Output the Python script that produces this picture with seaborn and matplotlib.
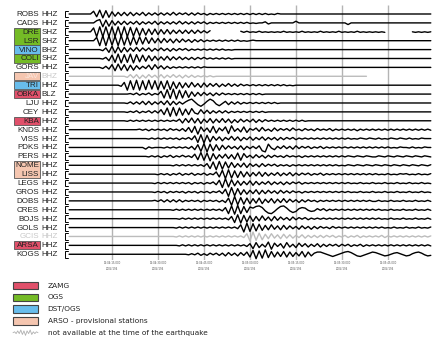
import matplotlib
matplotlib.use("Agg")
import matplotlib.pyplot as plt
import matplotlib.transforms as mtransforms
from matplotlib.patches import Rectangle
import numpy as np
import pandas as pd
import seaborn as sns

# Stations top to bottom, their channel and who runs them
stations = ["ROBS", "CADS", "DRE", "LSR", "VINO", "COLI", "GORS", "JAV", "TRI", "OBKA",
            "LJU", "CEY", "KBA", "KNDS", "VISS", "PDKS", "PERS", "NOME", "LISS", "LEGS",
            "GROS", "DOBS", "CRES", "BOJS", "GOLS", "GCIS", "ARSA", "KOGS"]
channels = ["HHZ", "HHZ", "SHZ", "SHZ", "BHZ", "SHZ", "HHZ", "BHZ", "HHZ", "BLZ",
            "HHZ", "HHZ", "HHZ", "HHZ", "HHZ", "HHZ", "HHZ", "HHZ", "HHZ", "HHZ",
            "HHZ", "HHZ", "HHZ", "HHZ", "HHZ", "HHZ", "HHZ", "HHZ"]
networks = ["", "", "OGS", "OGS", "DST", "OGS", "", "ARSO", "DST", "ZAMG",
            "", "", "ZAMG", "", "", "", "", "ARSO", "ARSO", "",
            "", "", "", "", "", "", "ZAMG", ""]
unavailable = ["JAV", "GCIS"]

# Traces, one sample per second from 13:04:01.
# 0-9 = up, a-i = down (1-9), _ = no data
traces = [
    "000000005e 7g6f4d3c3c 3c2b3c2b2b 2b2b3b2a2b 2b2a1b1a1a 1a1a1a1a1a 1a1a1a0a10 0000000000 0000000000 0000000000 0000000000 000000000",
    "0000000004 6g5f4d3c3c 2b3c2b2b3c 2b2b2b3b2b 2b2a2b1a1a 1a1a1a1a1a 0a002b0000 0000300000 0000000000 0c00000000 0000000000 000000000",
    "000000007i 9i9i9i9i9i 8h7g6f5e5e 4d4d3c3c3c 3c3b2b2___ ______1a1a 0a1a0a0a0a 1a0a0a1a0a 0a1a0a0a1a 0a0a1a0a0a 0a0a______ __0a0a0a0",
    "0000000006 i9i9h8i9h8 h7g7f6e5d4 d4c3d3c3b2 c2b2b1a1a1 a1a1a1a0a0 1000000000 0000000000 0000000000 0000000000 0000000000 000000000",
    "0000000000 0b3e6f5e4d 3c4c3b3c2b 3b2c2b2a2b 1a1a1a1a1a 1a0a000000 0000000000 0000000000 0000000000 0000000000 0000000000 000000000",
    "0000000000 0a2d6g8h7g 8h7f6e5d4c 3c4c3b3b2b 2b2a2a1a1a 1a1a000000 0000000000 0000000000 0000000000 0000000000 0000000000 000000000",
    "0000000000 0b2c5f6e5f 4e3c2b4d5b 3c2b1a1a1a 1a1a100000 0000000000 0000000000 0000000000 0000000000 0000000000 0000000000 000000000",
    "0000000000 000000000b 3c3d2c3b2c 3c2b3b2c2b 2b1a1a1a00 0000000000 0000000000 0000000000 0000000000 00000000__ __________ _________",
    "0000000000 0000000b5i 8h9i8h9g8h 7g8h6f5e4d 5c3d4c3b3c 2b3b2b2a1a 1a1a1a1a1a 1a0a000000 0000000000 0000000000 0000000000 000000000",
    "0000000000 0000000000 1a2b1a2b1a 5g8h9i7g6f 4d3c3b2c2b 2a1a1a1a1a 1a1a000000 0000000000 0000000000 0000000000 0000000000 000000000",
    "0000000000 000000000a 2b2b3c3c2b 3c4d3c2b25 72cfb374be a3c2b2b1a1 a1a1a1a1a0 0000000000 0000000000 0000000000 0000000000 000000000",
    "0000000000 000000000a 1a2b1a2b2b 4e7h8g7f5e 6bd4c3c2b2 b2b1a1a1a1 a1a1a00000 0000000000 0000000000 0000000000 0000000000 000000000",
    "0000000000 000000000a 1a1a1a1a1a 1a1a1a3d4c 5d4e3c4d3c 4c3d2c3b2b 3c2b2a1a1a 1a1a1a1a00 0000000000 0000000000 0000000000 000000000",
    "0000000000 0000000000 0001a1b1a1 a1b2a1b2c4 e6h5c3e6f3 b5g7c2d5e2 a3c4b1c3b2 a2b3a1b2a1 b2a1a2b1a1 a1a1b1a1a1 a1a1a1a1a1 a1a1a1a1a",
    "0000000000 0000000000 000000a1a1 a1a1a1b1a2 b5g7h6f4c3 d2b4c3d2b3 c2b3c2b2c2 b2a2b1a1a1 a1a1a1a1a1 a1a0a10a10 a1a0a10a10 a1a0a1000",
    "0000000000 0000000000 00000c1a00 0a1a1a1a1b 2d5g7h6f5e 4c3b2c3d2b 2b3fh6ad2b 3b2c3b2a2b 1a2b1a1a1a 1a1a1a1a1a 1a1a1a0a10 0a1a0a100",
    "0000000000 0000000000 000000a1a1 b1a2b1a2a1 b4f7g6h5e3 c4d3e6g5b2 c3b2c2b2a1 b2a1a1b1a1 a1a1a1a1a1 a10a10a10a a10a10a10a 10a10a10a",
    "0000000000 0000000000 0000000000 0000a1a1a1 a1a1b3f6h7 g6e5d3c4d3 b2c3b2a2b1 a1b1a1a1a1 a1a1a1a1a0 a10a10a10a 10a10a10a1 0a10a10a1",
    "0000000000 0000000000 000000000a 1a1b1a2b1a 2b1a2b1a4e 7h8g6f5e4d 3c4d3c2b3c 2b3c2b2a2b 1a2b1a1a1a 1a1a1a1a1a 1a0a1a0a10 1a0a1a0a1",
    "0000000000 0000000000 00000000a1 a1a1a1a1a1 b1a1b1a2c5 h8g6e4d3c4 d3c2b3c2b2 c2b2a2b1a1 a1a1a1a1a1 a1a0a1a0a1 a0a1a0a1a0 a1a0a1a0a",
    "0000000000 0000000000 00000000a1 a1b1a1a1b1 a1b1a1b1a2 c5h8g6e4d3 c4d3c3b2c3 b2b2a1b1a1 a1a1a1a1a1 a1a0a1a0a1 a0a1a0a1a0 a1a0a1a0a",
    "0000000000 0000000000 000000001a 2b2b2b2b1a 1a1b1a1a1b 1c5h8g6f5e 4d5e3c4d3c 4c3b2c2b2a 1b1a1a1a1a 1a1a1a1a1a a1a0a1a0a1 a0a1a0a1a",
    "0000000000 0000000000 0000000000 0000a1a1a1 a1a1a1a1a1 b4g7h8g6e5 3674bfgc26 73bec243ac b2a2b1a1a1 a1a1a1a1a1 a1a0a1a0a1 a0a1a0a1a",
    "0000000000 0000000000 0000000000 000000a1a1 a1a1a1a1a1 a1b4g7h6f5 e4d5c3d4c3 b2c3b2a2b1 a1a1a1a1a1 a1a1a1a1a1 a1a0a1a0a1 a0a1a0a1a",
    "0000000000 0000000000 0000000000 00000a1a1a 1a1a1a1a1a 1a1a1b5h8g 7f6e4d5c3d 4c3b2c3b2c 2b2a1b2a1a 1a1a1a1a1a 1a1a0a1a0a 1a0a1a0a1",
    "0000000000 0000000000 0000000000 00000a1a1a 1a1a1a1a1a 1a1a1a1b5h 8g6f4d5c3d 4c3c2b3c2b 2b2b2a2b1a 2b1a2b1a1a 1a2b1a1a1a 1a1a1a1a1",
    "0000000000 0000000000 0000000000 000000a1a1 a1a1a1a1a1 a1a1a1a1b3 f5d2c6g4b3 e5c2d4b3c2 b3c2b2a2b2 a2b1a2b1a1 a1a1a1a1a1 a1a1a1a1a",
    "0000000000 0000000000 0000000000 000000000a 1a2b1b2a2b 2c3b2c3b4e 7h6g8f5e4d 5e4d3c5e4c 24420bdb02 4530cdb024 31acb0231a cb1342acb",
]

tick_seconds = [15, 30, 45, 60, 75, 90, 105]
tick_labels = ["13:04:15.000", "13:04:30.000", "13:04:45.000", "13:05:00.000",
               "13:05:15.000", "13:05:30.000", "13:05:45.000"]
day_label = "2004/194"

legend_labels = ["ZAMG", "OGS", "DST/OGS", "ARSO - provisional stations",
                 "not available at the time of the earthquake"]
legend_keys = ["ZAMG", "OGS", "DST", "ARSO"]
icon_wiggle = [0, 1, -1, 2, -1, 3, -2, 2, -3, 2, -1, 3, -2, 1, -1, 1, 0]

colors = {"ZAMG": "#e0506a", "OGS": "#74bb26", "DST": "#68bdec", "ARSO": "#f5c6b0"}


def decode(code):
    vals = []
    for ch in code.replace(" ", ""):
        if ch == "_":
            vals.append(np.nan)
        elif ch.isdigit():
            vals.append(int(ch))
        else:
            vals.append(-(ord(ch) - ord("a") + 1))
    return np.array(vals, dtype=float)


# long table, one segment id per unbroken piece of trace
rows = []
seg = 0
for i, (name, code) in enumerate(zip(stations, traces)):
    amp = decode(code)
    prev_nan = True
    for k, a in enumerate(amp):
        if np.isnan(a):
            prev_nan = True
            continue
        if prev_nan:
            seg += 1
            prev_nan = False
        rows.append({"station": name, "row": i, "t": 1 + k,
                     "y": i - a * 0.062, "seg": seg})
df = pd.DataFrame(rows)
df["avail"] = ~df["station"].isin(unavailable)

sns.set_style("white")
plt.rcParams["font.family"] = ["DejaVu Sans"]

W, H = 444, 340
fig = plt.figure(figsize=(W / 100, H / 100), dpi=100)
top_px, bot_px, left_px, right_px = 5.1, 259.6, 59.9, 440.0
ax = fig.add_axes([left_px / W, 1 - bot_px / H, (right_px - left_px) / W, (bot_px - top_px) / H])

ax.vlines(tick_seconds, -1.0, 27.6, color="#b4b4b4", lw=1.0, zorder=0)

sns.lineplot(data=df[df["avail"]], x="t", y="y", units="seg", estimator=None,
             sort=False, color="black", lw=1.0, ax=ax, legend=False)
sns.lineplot(data=df[~df["avail"]], x="t", y="y", units="seg", estimator=None,
             sort=False, color="#bcbcbc", lw=1.0, ax=ax, legend=False)

# little brackets at the start of each trace
for i in range(len(stations)):
    ax.plot([0.7, -0.3, -0.3, 0.7], [i - 0.38, i - 0.38, i + 0.38, i + 0.38],
            color="black", lw=0.7, solid_joinstyle="miter")

ax.set_xlim(-2, 122)
ax.set_ylim(27.6, -1.0)
ax.set_yticks([])
ax.set_xticks(tick_seconds)
ax.set_xticklabels([f"{lab}\n{day_label}" for lab in tick_labels],
                   fontsize=1.9, color="#555555", linespacing=1.5)
ax.tick_params(axis="x", length=0, pad=1.2)
ax.set_xlabel("")
ax.set_ylabel("")
sns.despine(ax=ax, left=True, bottom=True)

# station labels and network boxes
blend = mtransforms.blended_transform_factory(fig.transFigure, ax.transData)
i = 0
while i < len(stations):
    net = networks[i]
    j = i
    while j + 1 < len(stations) and networks[j + 1] == net and net:
        j += 1
    if net:
        ax.add_patch(Rectangle((14 / W, i - 0.46), 26 / W, (j - i) + 0.92,
                               transform=blend, facecolor=colors[net],
                               edgecolor="#555555", lw=0.6, clip_on=False))
    i = j + 1

for i, (name, ch) in enumerate(zip(stations, channels)):
    gone = name in unavailable
    name_col = "#c8c8c8" if gone else "#222222"
    if gone and networks[i]:
        name_col = "#fbe6dc"
    ax.text(39 / W, i + 0.05, name, transform=blend, ha="right", va="center",
            fontsize=5.8, family="Liberation Sans", color=name_col)
    ax.text(41.5 / W, i + 0.05, ch, transform=blend, ha="left", va="center",
            fontsize=5.8, family="Liberation Sans",
            color="#c8c8c8" if gone else "#222222")

# legend in pixel coordinates at the bottom
lax = fig.add_axes([0, 0, 1, 66 / H])
lax.set_xlim(0, W)
lax.set_ylim(H, H - 66)
lax.axis("off")
ys = [285.5, 297.3, 309.1, 320.9, 332.7]
for key, y in zip(legend_keys, ys):
    lax.add_patch(Rectangle((13, y - 3.8), 25, 7.6, facecolor=colors[key],
                            edgecolor="#444444", lw=0.8))
icon_x = np.linspace(13, 38, len(icon_wiggle))
sns.lineplot(x=icon_x, y=ys[4] - np.array(icon_wiggle) * 0.9, ax=lax,
             color="#b0b0b0", lw=0.6, sort=False, estimator=None)
for lab, y in zip(legend_labels, ys):
    lax.text(47.5, y, lab, ha="left", va="center", fontsize=5.3, color="#222222")

fig.savefig("out.png", dpi=100)
